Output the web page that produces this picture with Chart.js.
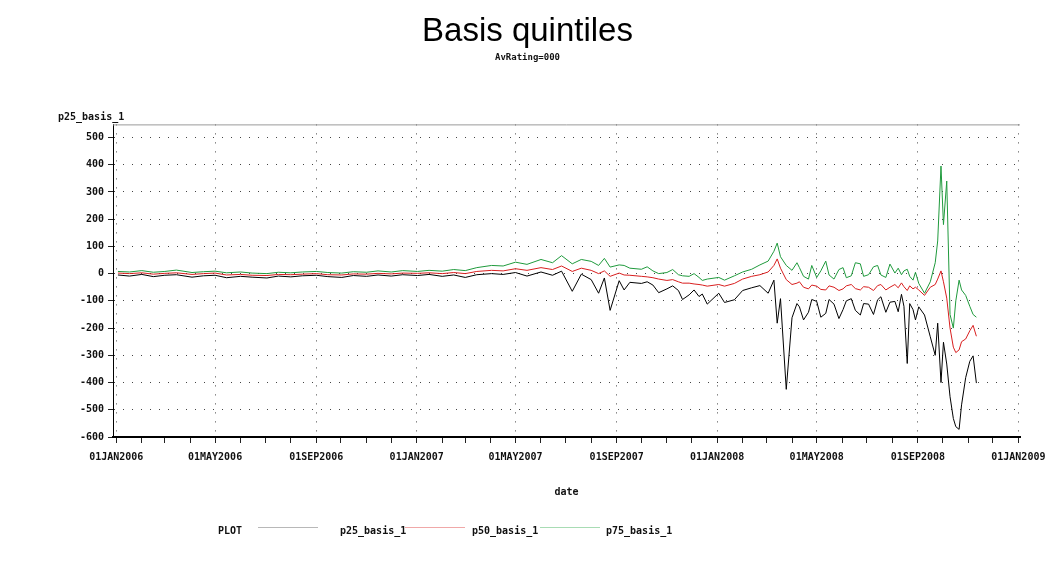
<!DOCTYPE html>
<html>
<head>
<meta charset="utf-8">
<script src="https://cdn.jsdelivr.net/npm/chart.js@4.4.1/dist/chart.umd.min.js"></script>
<style>
  html, body { margin: 0; padding: 0; background: #fff; }
  #wrap { width: 1055px; height: 563px; position: relative; }
</style>
</head>
<body>
<div id="wrap"><canvas id="chart"></canvas></div>
<script>
// values (rows line up across the arrays)
const dates = [
  // 2006
  '2006-01-03','2006-01-17','2006-02-01','2006-02-15','2006-03-01','2006-03-15','2006-04-03','2006-04-17',
  '2006-05-01','2006-05-15','2006-06-01','2006-06-15','2006-07-03','2006-07-17','2006-08-01','2006-08-15',
  '2006-09-01','2006-09-15','2006-10-02','2006-10-16','2006-11-01','2006-11-15','2006-12-01','2006-12-15',
  // 2007 to late august
  '2007-01-02','2007-01-16','2007-02-01','2007-02-15','2007-03-01','2007-03-15','2007-04-02','2007-04-16',
  '2007-05-01','2007-05-15','2007-06-01','2007-06-15','2007-06-26','2007-07-09','2007-07-20','2007-08-01',
  '2007-08-10','2007-08-17','2007-08-24',
  // sep 2007 to march 2008
  '2007-09-04','2007-09-10','2007-09-17','2007-10-01','2007-10-08','2007-10-15','2007-10-22','2007-11-01',
  '2007-11-08','2007-11-15','2007-11-20','2007-11-28','2007-12-04','2007-12-10','2007-12-14','2007-12-20',
  '2008-01-03','2008-01-10','2008-01-22','2008-02-01','2008-02-12','2008-02-22','2008-03-03','2008-03-10',
  '2008-03-14','2008-03-18','2008-03-25',
  // april to early september 2008
  '2008-04-01','2008-04-07','2008-04-10','2008-04-15','2008-04-21','2008-04-25','2008-05-01','2008-05-06',
  '2008-05-12','2008-05-16','2008-05-22','2008-05-28','2008-06-02','2008-06-06','2008-06-12','2008-06-17',
  '2008-06-23','2008-06-27','2008-07-03','2008-07-09','2008-07-14','2008-07-18','2008-07-24','2008-07-29',
  '2008-08-04','2008-08-08','2008-08-12','2008-08-15','2008-08-19','2008-08-22','2008-08-26','2008-08-29',
  '2008-09-02',
  // the crash
  '2008-09-09','2008-09-16','2008-09-22','2008-09-25','2008-09-29','2008-10-02','2008-10-06','2008-10-10',
  '2008-10-14','2008-10-17','2008-10-21','2008-10-24','2008-10-29','2008-11-03','2008-11-07','2008-11-11'
];
const p25 = [
  -5, -9, -3, -11, -6, -4, -13, -8, -6, -15, -10, -13, -16, -9, -12, -8,
  -6, -11, -14, -7, -10, -5, -9, -4,
  -7, -3, -10, -5, -14, -4, 0, -3, 4, -9, 6, -6, 9, -65, -2, -22,
  -72, -16, -135,
  -26, -60, -32, -36, -30, -42, -70, -56, -45, -62, -95, -78, -60, -84, -75, -112,
  -72, -106, -96, -62, -52, -44, -72, -24, -182, -92, -425,
  -162, -110, -122, -170, -142, -95, -102, -160, -146, -95, -112, -165, -132, -100, -92, -135,
  -152, -110, -112, -150, -96, -85, -142, -105, -102, -140, -76, -120, -330, -110, -132, -170,
  -122,
  -152, -232, -300, -182, -400, -252, -332, -452, -532, -562, -572, -482, -382, -322, -302, -402
];
const p50 = [
  2, 0, 3, -2, 1, 3, -3, 0, 2, -5, -3, -6, -7, -3, -4, -2,
  0, -4, -5, -1, -2, 1, -1, 2,
  1, 3, 0, 4, 0, 8, 12, 10, 18, 12, 22, 15, 28, 8, 20, 12,
  0, 10, -10,
  2, -5, -6, -10, -12, -15, -20, -25, -22, -30, -35, -35, -38, -40, -42, -46,
  -40, -46, -36, -20, -10, -4, 6, 30, 54, 20, -22,
  -40, -35, -30, -50, -56, -42, -46, -58, -60, -45, -50, -62, -56, -45, -40, -55,
  -60, -48, -50, -62, -44, -40, -60, -50, -40, -52, -34, -48, -62, -45, -56, -50,
  -60,
  -80, -50, -40, -20, 10, -30, -90, -200, -270, -290, -280, -250, -240, -210, -190, -230
];
const p75 = [
  8, 6, 11, 5, 8, 13, 4, 7, 9, 3, 6, 2, 0, 5, 3, 6,
  8, 4, 2, 7, 5, 10, 6, 11,
  8, 12, 9, 15, 11, 22, 30, 28, 42, 34, 52, 40, 66, 36, 52, 45,
  30, 56, 24,
  32, 30, 20, 16, 25, 10, 0, 4, 15, -4, -8, -10, 0, -14, -25, -20,
  -14, -24, -8, 6, 16, 32, 46, 82, 112, 62, 30,
  12, 40, 22, -10, -20, 30, -14, 10, 46, -5, -20, 15, 22, -15, -8, 40,
  36, -10, -4, 25, 30, -5, -14, 35, 2, 20, -4, 10, 16, -10, -24, 5,
  -36,
  -72, -30, 40, 120, 395, 180, 340, -150, -200, -100, -24, -60, -80, -120, -150, -160
];
const seriesNames = ['p25_basis_1', 'p50_basis_1', 'p75_basis_1'];
const seriesColors = ['#000000', '#d81e1e', '#1f9a3c'];
const legendColors = ['#b8b8b8', '#f0a8a8', '#a8dcb4'];
const yTicks = [500, 400, 300, 200, 100, 0, -100, -200, -300, -400, -500, -600];
const xTickLabels = ['01JAN2006', '01MAY2006', '01SEP2006', '01JAN2007', '01MAY2007', '01SEP2007',
                     '01JAN2008', '01MAY2008', '01SEP2008', '01JAN2009'];

const DAY = 864e5;
const T0 = Date.UTC(2006, 0, 1);
function dayOf(s) {
  const [y, m, d] = s.split('-').map(Number);
  return (Date.UTC(y, m - 1, d) - T0) / DAY;
}

// month ticks, labels only every 4 months
const monthTicks = [];
const labelFor = {};
let li = 0;
for (let y = 2006; y <= 2009; y++) {
  for (let m = 0; m < 12; m++) {
    if (y === 2009 && m > 0) break;
    const v = (Date.UTC(y, m, 1) - T0) / DAY;
    monthTicks.push(v);
    if (m % 4 === 0) labelFor[v] = xTickLabels[li++];
  }
}

const mk = (vals) => dates.map((d, i) => ({ x: dayOf(d), y: vals[i] }));
const tickFont = { family: 'DejaVu Sans Mono', size: 10, weight: 'bold' };

const decor = {
  id: 'decor',
  afterDraw(chart) {
    const { ctx, chartArea: a } = chart;
    ctx.save();
    // top frame
    ctx.strokeStyle = '#9a9a9a';
    ctx.lineWidth = 1;
    ctx.beginPath();
    ctx.moveTo(a.left, a.top + 0.5);
    ctx.lineTo(a.right, a.top + 0.5);
    ctx.stroke();

    ctx.fillStyle = '#111';
    ctx.font = 'bold 10px "DejaVu Sans Mono"';
    ctx.textBaseline = 'middle';
    ctx.textAlign = 'left';
    ctx.fillText('p25_basis_1', 58, 117);

    ctx.textAlign = 'center';
    ctx.fillText('date', (a.left + a.right) / 2, 492);

    // legend
    const ly = 531;
    ctx.textAlign = 'left';
    ctx.fillText('PLOT', 218, ly);
    const items = [[258, 340], [405, 472], [540, 606]];
    items.forEach(([lx, tx], i) => {
      ctx.strokeStyle = legendColors[i];
      ctx.beginPath();
      ctx.moveTo(lx, ly - 3.5);
      ctx.lineTo(lx + 60, ly - 3.5);
      ctx.stroke();
      ctx.fillText(seriesNames[i], tx, ly);
    });
    ctx.restore();
  }
};

new Chart(document.getElementById('chart'), {
  type: 'line',
  data: {
    datasets: [p25, p50, p75].map((vals, i) => ({
      label: seriesNames[i],
      data: mk(vals),
      borderColor: seriesColors[i],
      backgroundColor: seriesColors[i],
      borderWidth: 1,
      pointRadius: 0,
      tension: 0
    }))
  },
  options: {
    responsive: true,
    maintainAspectRatio: false,
    animation: false,
    layout: { padding: { left: 35, right: 35, top: 0, bottom: 0 } },
    plugins: {
      legend: { display: false },
      tooltip: { enabled: false },
      title: {
        display: true,
        text: 'Basis quintiles',
        color: '#000',
        font: { family: 'Liberation Sans', size: 33, weight: 'normal' },
        padding: { top: 12, bottom: 0 }
      },
      subtitle: {
        display: true,
        text: 'AvRating=000',
        color: '#111',
        font: { family: 'DejaVu Sans Mono', size: 9, weight: 'bold' },
        padding: { top: 1, bottom: 61 }
      }
    },
    scales: {
      x: {
        type: 'linear',
        min: -4,
        max: 1098,
        afterBuildTicks: (s) => { s.ticks = monthTicks.map(v => ({ value: v })); },
        afterFit: (s) => { s.height = 126; },
        ticks: {
          autoSkip: false,
          maxRotation: 0,
          padding: 8,
          color: '#111',
          font: tickFont,
          callback: (v) => labelFor[v] || ''
        },
        grid: {
          color: (c) => (c.tick && labelFor[c.tick.value] !== undefined) ? '#444' : 'rgba(0,0,0,0)',
          tickColor: '#222',
          tickLength: 6
        },
        border: { display: true, color: '#000', width: 2, dash: [1, 8] }
      },
      y: {
        min: -600,
        max: 548,
        afterBuildTicks: (s) => { s.ticks = yTicks.map(v => ({ value: v })); },
        afterFit: (s) => { s.width = 78; },
        ticks: { color: '#111', font: tickFont, padding: 4 },
        grid: {
          color: '#444',
          tickColor: '#222',
          tickLength: 5
        },
        border: { display: true, color: '#000', width: 1, dash: [1, 8] }
      }
    }
  },
  plugins: [decor]
});
</script>
</body>
</html>
